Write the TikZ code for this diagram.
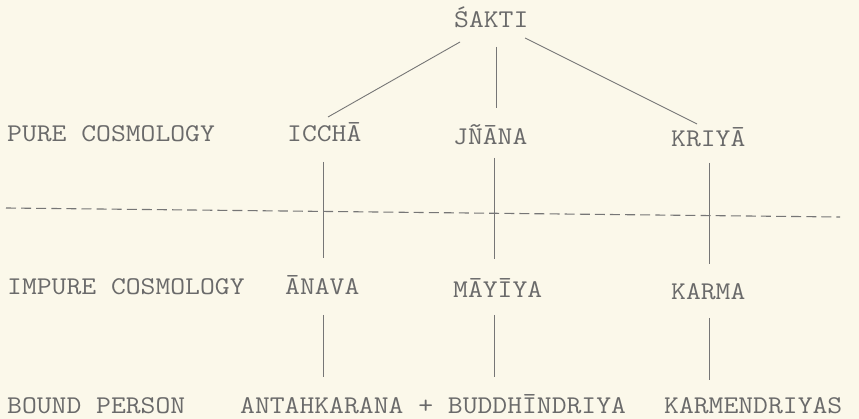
\documentclass[tikz,border=0pt]{standalone}
\usepackage{fontspec}
\newfontfamily\tw[FakeStretch=1.13]{Latin Modern Mono}
\definecolor{paper}{HTML}{FBF8EA}
\definecolor{ink}{HTML}{6A6A6A}
\definecolor{rule}{HTML}{767676}
\tikzset{
  lbl/.style={anchor=base west, inner sep=0pt, text=ink, font=\tw\fontsize{25.5}{30}\selectfont},
  conn/.style={draw=rule, line width=0.9pt},
  divider/.style={draw=rule, line width=1.1pt, dash pattern=on 10pt off 5.1pt}
}
\begin{document}
\begin{tikzpicture}[x=1pt, y=-1pt]
\fill[paper] (0,0) rectangle (859,419);
\useasboundingbox (0,0) rectangle (859,419);
% labels
\node[lbl] (sakti) at (454,28) {ŚAKTI};
\node[lbl] (pure) at (7,142) {PURE COSMOLOGY};
\node[lbl] (iccha) at (287,142) {ICCHĀ};
\node[lbl] (jnana) at (453,145) {JÑĀNA};
\node[lbl] (kriya) at (671,147) {KRIYĀ};
\node[lbl] (impure) at (7,295) {IMPURE COSMOLOGY};
\node[lbl] (anava) at (285,295) {ĀNAVA};
\node[lbl] (mayiya) at (453,298) {MĀYĪYA};
\node[lbl] (karma) at (671,300) {KARMA};
\node[lbl] (bound) at (7,413) {BOUND PERSON};
\node[lbl] (antah) at (240,413) {ANTAHKARANA + BUDDHĪNDRIYA};
\node[lbl] (karmen) at (664,413) {KARMENDRIYAS};
% connector end points
\coordinate (sL) at (460,42);  \coordinate (iT) at (328,117);
\coordinate (sM) at (496,47);  \coordinate (jT) at (496,108);
\coordinate (sR) at (525,38);  \coordinate (kT) at (697,124);
\coordinate (iB) at (323,162); \coordinate (aT) at (323,258);
\coordinate (jB) at (494,158); \coordinate (mT) at (494,259);
\coordinate (kB) at (709,163); \coordinate (rT) at (709,264);
\coordinate (aB) at (323,315); \coordinate (anT) at (323,377);
\coordinate (mB) at (494,315); \coordinate (bT) at (494,377);
\coordinate (rB) at (709,318); \coordinate (keT) at (709,380);
\coordinate (dL) at (6,208);   \coordinate (dR) at (840,217);
% connectors
\draw[conn] (sL) -- (iT);
\draw[conn] (sM) -- (jT);
\draw[conn] (sR) -- (kT);
\draw[conn] (iB) -- (aT);
\draw[conn] (jB) -- (mT);
\draw[conn] (kB) -- (rT);
\draw[conn] (aB) -- (anT);
\draw[conn] (mB) -- (bT);
\draw[conn] (rB) -- (keT);
\draw[divider] (dL) -- (dR);
\end{tikzpicture}
\end{document}
